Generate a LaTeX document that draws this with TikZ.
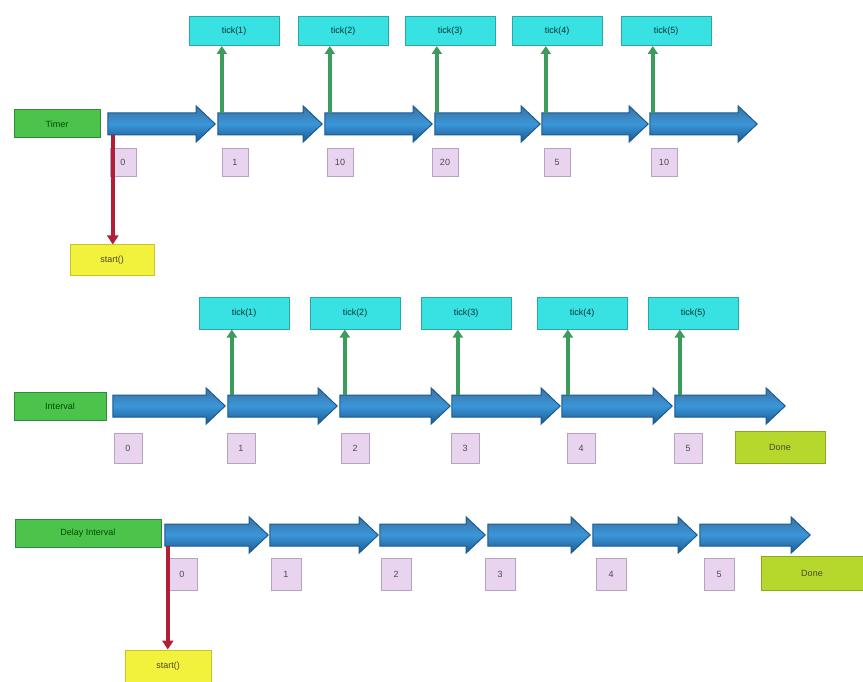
\documentclass[tikz,border=0pt]{standalone}
\usepackage{fontspec}
\setmainfont{Liberation Sans}
\usetikzlibrary{arrows.meta}
\definecolor{lblgreen}{HTML}{4CC44C}
\definecolor{lblgreend}{HTML}{2E8B3A}
\definecolor{segblue}{HTML}{3A96D8}
\definecolor{segblued}{HTML}{1B5A92}
\definecolor{evcyan}{HTML}{38E2E2}
\definecolor{evcyand}{HTML}{2AA8A8}
\definecolor{numpurple}{HTML}{E8D4EE}
\definecolor{numpurpled}{HTML}{B8A2C2}
\definecolor{stylw}{HTML}{F2F23C}
\definecolor{stylwd}{HTML}{C8C428}
\definecolor{endgreen}{HTML}{B6D82C}
\definecolor{endgreend}{HTML}{8AA820}
\definecolor{linkred}{HTML}{B01E38}
\definecolor{linkgreen}{HTML}{3C9C5C}
\tikzset{
  every node/.style={font=\fontsize{9}{10}\selectfont, inner sep=1pt},
  lane/.style={rectangle, fill=lblgreen, draw=lblgreend, line width=1pt, text=black!70!green, minimum height=28pt},
  segspan/.style={rectangle, inner sep=0pt, minimum height=36pt},
  segfill/.style={draw=segblued, line width=1pt, top color=segblued!85, bottom color=segblued, middle color=segblue},
  evbox/.style={rectangle, fill=evcyan, draw=evcyand, line width=1pt, text=black!60!teal, minimum height=29pt},
  numbox/.style={rectangle, fill=numpurple, draw=numpurpled, line width=0.8pt, text=black!70, minimum width=26pt, minimum height=28pt},
  startbox/.style={rectangle, fill=stylw, draw=stylwd, line width=1pt, text=black!60!olive, minimum height=30pt},
  endbox/.style={rectangle, fill=endgreen, draw=endgreend, line width=1pt, text=black!60!olive, minimum height=32pt},
  uplink/.style={draw=linkgreen, line width=4pt, -{Triangle[width=10pt,length=8pt]}},
  downlink/.style={draw=linkred, line width=4pt, -{Triangle[width=11pt,length=9pt]}},
}
% block arrow segment: named span node #1 from x=#2 to x=#3 at height #4
\newcommand\segarrow[4]{%
  \node[segspan, minimum width={#3-#2}] (#1) at ({(#2+#3)/2},#4) {};
  \path[segfill] ([yshift=11pt]#1.west) -- ([xshift=-19pt,yshift=11pt]#1.east)
    -- ([xshift=-19pt,yshift=18pt]#1.east) -- (#1.east)
    -- ([xshift=-19pt,yshift=-18pt]#1.east) -- ([xshift=-19pt,yshift=-11pt]#1.east)
    -- ([yshift=-11pt]#1.west) -- cycle;
}
\begin{document}
\begin{tikzpicture}[x=1pt,y=-1pt]
\useasboundingbox (0,0) rectangle (863,682);

% ---------- first timeline ----------
\node[lane, minimum width=86pt] (l1) at (57,124) {Timer};
\foreach \i/\a/\b in {1/108/215,2/218/322,3/325/432,4/435/540,5/542/648,6/650/757}
  {\segarrow{s1\i}{\a}{\b}{124}}
\foreach \i/\x/\t in {2/234/tick(1),3/343/tick(2),4/450/tick(3),5/557/tick(4),6/666/tick(5)}
  \node[evbox, minimum width=90pt] (c1\i) at (\x,31) {\t};
\foreach \i/\d in {2/4,3/5,4/2,5/4,6/3}
  \draw[uplink] ([xshift=\d pt,yshift=11pt]s1\i.west) -- ([xshift=\d pt]s1\i.west |- c1\i.south);
\foreach \i/\x/\t in {1/123/0,2/235/1,3/340/10,4/445/20,5/557/5,6/664/10}
  \node[numbox] (n1\i) at (\x,162) {\t};
\node[startbox, minimum width=84pt] (y1) at (112,260) {start()};
\draw[downlink] ([xshift=5pt,yshift=-11pt]s11.west) -- ([xshift=5pt]s11.west |- y1.north);

% ---------- second timeline ----------
\node[lane, minimum width=92pt] (l2) at (60,406) {Interval};
\foreach \i/\a/\b in {1/113/225,2/228/337,3/340/450,4/452/560,5/562/672,6/675/785}
  {\segarrow{s2\i}{\a}{\b}{406}}
\foreach \i/\x/\t in {2/244/tick(1),3/355/tick(2),4/466/tick(3),5/582/tick(4),6/693/tick(5)}
  \node[evbox, minimum width=90pt, minimum height=32pt] (c2\i) at (\x,313) {\t};
\foreach \i/\d in {2/4,3/5,4/6,5/6,6/5}
  \draw[uplink] ([xshift=\d pt,yshift=11pt]s2\i.west) -- ([xshift=\d pt]s2\i.west |- c2\i.south);
\foreach \i/\x/\t in {1/128/0,2/241/1,3/355/2,4/465/3,5/581/4,6/688/5}
  \node[numbox, minimum width=28pt, minimum height=30pt] (n2\i) at (\x,448) {\t};
\node[endbox, minimum width=90pt] (e2) at (780,447) {Done};

% ---------- third timeline ----------
\node[lane, minimum width=146pt] (l3) at (88,533) {Delay Interval};
\foreach \i/\a/\b in {1/165/268,2/270/378,3/380/485,4/488/590,5/593/697,6/700/810}
  {\segarrow{s3\i}{\a}{\b}{535}}
\foreach \i/\x/\t in {1/182/0,2/286/1,3/396/2,4/500/3,5/611/4,6/719/5}
  \node[numbox, minimum width=30pt, minimum height=32pt] (n3\i) at (\x,574) {\t};
\node[endbox, minimum width=102pt, minimum height=34pt] (e3) at (812,573) {Done};
\node[startbox, minimum width=86pt, minimum height=32pt] (y3) at (168,666) {start()};
\draw[downlink] ([xshift=3pt,yshift=-11pt]s31.west) -- ([xshift=3pt]s31.west |- y3.north);
\end{tikzpicture}
\end{document}
